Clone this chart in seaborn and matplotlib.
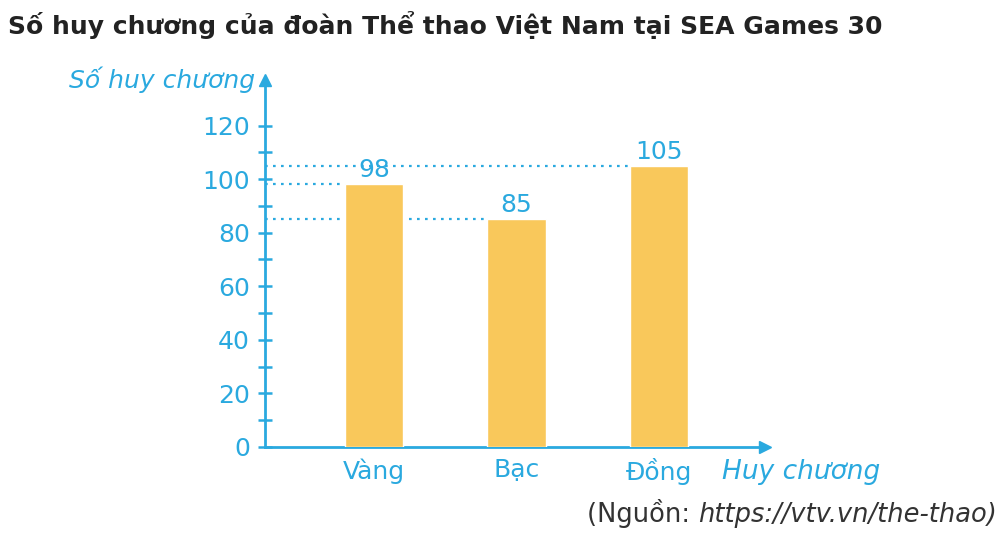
import matplotlib
matplotlib.use("Agg")
import matplotlib.pyplot as plt
import seaborn as sns

# data
medal_types = ["Vàng", "Bạc", "Đồng"]
medal_counts = [98, 85, 105]
y_ticks = [0, 20, 40, 60, 80, 100, 120]
y_minor = [10, 30, 50, 70, 90, 110]

blue = "#2AA9DF"
bar_color = "#F9C85B"

sns.set_style("white")
plt.rcParams["font.family"] = ["DejaVu Sans"]

fig = plt.figure(figsize=(10.02, 5.35), dpi=100)
ax = fig.add_axes([0.2645, 0.1645, 0.499, 0.686])

bar_w = 0.41
sns.barplot(x=medal_types, y=medal_counts, color=bar_color, saturation=1,
            width=bar_w, ax=ax, zorder=3)

ax.set_xlim(-0.765, 2.745)
ax.set_ylim(0, 137)

# dotted guide lines from the axis to each bar
x0 = ax.get_xlim()[0]
for i, v in enumerate(medal_counts):
    ax.hlines(v, x0, i - bar_w / 2, colors=blue, linestyles=(0, (1.2, 2.4)),
              linewidth=1.6, zorder=2)
    ax.text(i, v + 0.8, str(v), ha="center", va="bottom", color=blue,
            fontsize=18, zorder=4)

# axes styling
for s in ["top", "right"]:
    ax.spines[s].set_visible(False)
for s in ["left", "bottom"]:
    ax.spines[s].set_color(blue)
    ax.spines[s].set_linewidth(2)

ax.set_yticks(y_ticks)
ax.set_yticks(y_minor, minor=True)
ax.tick_params(axis="y", which="both", left=True, direction="inout",
               length=9.5, width=1.8, color=blue, labelcolor=blue,
               labelsize=18, pad=6)
ax.tick_params(axis="x", length=0, labelcolor=blue, labelsize=18, pad=8)

# arrow heads
ax.plot(0, 1, marker="^", color=blue, markersize=9, transform=ax.transAxes,
        clip_on=False)
ax.plot(1, 0, marker=">", color=blue, markersize=9, transform=ax.transAxes,
        clip_on=False)

# axis labels
fig.text(255 / 1002, 1 - 80 / 535, "Số huy chương", ha="right", va="center",
         color=blue, fontsize=18, style="italic")
fig.text(722 / 1002, 1 - 472 / 535, "Huy chương", ha="left", va="center",
         color=blue, fontsize=19, style="italic")

# title
fig.text(8 / 1002, 1 - 25 / 535,
         "Số huy chương của đoàn Thể thao Việt Nam tại SEA Games 30",
         ha="left", va="center", color="#222222", fontsize=18,
         fontweight="bold")

# source
src = fig.text(997 / 1002, 1 - 522 / 535, "https://vtv.vn/the-thao)",
               ha="right", va="baseline", color="#333333", fontsize=18.5,
               style="italic")
fig.canvas.draw()
bb = src.get_window_extent()
fig.text(bb.x0 / fig.bbox.width, 1 - 522 / 535, "(Nguồn: ",
         ha="right", va="baseline", color="#333333", fontsize=18.5)

fig.savefig("out.png", dpi=100)
